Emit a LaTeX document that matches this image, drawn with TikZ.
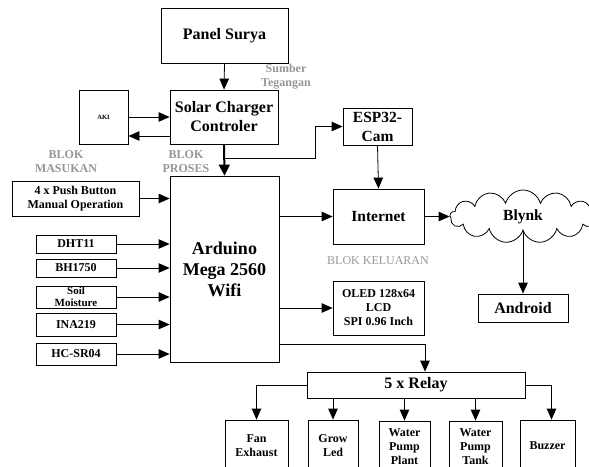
\documentclass[tikz,border=0pt]{standalone}
\usepackage{fontspec}
\setmainfont{Liberation Serif}
\usetikzlibrary{arrows.meta,shapes.symbols}
\definecolor{lbl}{RGB}{150,150,150}
\tikzset{
  blk/.style={draw, line width=0.8pt, inner sep=0pt, align=center, font=\bfseries},
  arr/.style={line width=0.8pt, -{Triangle[length=11pt,width=9.5pt]}},
  tarr/.style={line width=2pt, -{Triangle[length=11pt,width=11pt]}},
  ln/.style={line width=0.8pt},
  glbl/.style={text=lbl, align=center, inner sep=0pt, font=\fontsize{12}{14}\selectfont\bfseries},
  f16/.style={font=\fontsize{16}{19}\selectfont\bfseries},
  f12/.style={font=\fontsize{12}{14}\selectfont\bfseries},
}
\begin{document}
\begin{tikzpicture}[x=1pt,y=-1pt]
\useasboundingbox (0,0) rectangle (589,466);
\clip (0,0) rectangle (589,466);
% nodes
\node[blk,f16,minimum width=127,minimum height=55] (panel) at (224.5,35.5) {Panel Surya};
\node[blk,f16,minimum width=108,minimum height=54] (solar) at (224,117) {Solar Charger\\Controler};
\node[blk,minimum width=49,minimum height=54,font=\fontsize{6.5}{7}\selectfont\bfseries] (aki) at (103.5,117) {AKI};
\node[blk,minimum width=69,minimum height=37,font=\fontsize{15.5}{19}\selectfont\bfseries] (esp) at (377.5,126.5) {ESP32-\\Cam};
\node[blk,minimum width=109,minimum height=186,font=\fontsize{18}{21}\selectfont\bfseries] (ard) at (224.5,269) {Arduino\\Mega 2560\\Wifi};
\node[blk,f12,minimum width=127,minimum height=35] (push) at (75.5,198.5) {4 x Push Button\\Manual Operation};
\node[blk,f12,minimum width=80,minimum height=18] (dht) at (76,244) {DHT11};
\node[blk,f12,minimum width=80,minimum height=18] (bh) at (76,268) {BH1750};
\node[blk,minimum width=80,minimum height=22,font=\fontsize{11}{12}\selectfont\bfseries] (soil) at (76,297) {Soil\\Moisture};
\node[blk,f12,minimum width=80,minimum height=23] (ina) at (76,324.5) {INA219};
\node[blk,f12,minimum width=80,minimum height=22] (hc) at (76,354) {HC-SR04};
\node[blk,minimum width=91,minimum height=55,font=\fontsize{15.5}{18}\selectfont\bfseries] (inet) at (378.5,216.5) {Internet};
\node[cloud,draw,line width=0.8pt,cloud puffs=13,cloud ignores aspect,minimum width=146,minimum height=53,inner sep=0pt,font=\fontsize{15.5}{18}\selectfont\bfseries] (blynk) at (523,216.5) {Blynk};
\node[blk,f16,minimum width=90,minimum height=28] (andr) at (523,308) {Android};
\node[blk,minimum width=91,minimum height=54,f12] (oled) at (378.5,308) {OLED 128x64\\LCD\\SPI 0.96 Inch};
\node[blk,minimum width=218,minimum height=26,f16] (relay) at (416,385) {5 x Relay};
\node[blk,f12,minimum width=63,minimum height=52] (fan) at (256.5,446) {Fan\\Exhaust};
\node[blk,f12,minimum width=50,minimum height=52] (grow) at (333,446) {Grow\\Led};
\node[blk,f12,minimum width=51,minimum height=52] (wpp) at (404.5,447) {Water\\Pump\\Plant};
\node[blk,f12,minimum width=53,minimum height=52] (wpt) at (475.5,447) {Water\\Pump\\Tank};
\node[blk,f12,minimum width=55,minimum height=52] (buz) at (547.5,446) {Buzzer};
% labels
\node[glbl] (sumber) at (286,76.5) {Sumber\\Tegangan};
\node[glbl] (masuk) at (66,162) {BLOK\\MASUKAN};
\node[glbl] (proses) at (186,162) {BLOK\\PROSES};
\node[text=lbl,inner sep=0pt,font=\fontsize{12}{14}\selectfont] (kel) at (378,261) {BLOK KELUARAN};
% connectors
\draw[arr] (panel.south) -- (solar.north);
\draw[arr] (aki.east) -- (solar.west);
\draw[arr] ([yshift=-19pt]solar.west) -- ([yshift=-19pt]aki.east);
\draw[tarr] (solar.south) -- (ard.north);
\coordinate (br) at (solar.south |- 0,158);
\coordinate (bend) at (315,158);
\draw[arr] (br) -- (bend) |- (esp.west);
\draw[arr] (esp.south) -- (inet.north);
\draw[arr] (ard.east |- inet.west) -- (inet.west);
\draw[arr] (inet.east) -- (blynk.west);
\draw[arr] (blynk.south) -- (andr.north);
\draw[arr] (ard.east |- oled.west) -- (oled.west);
\foreach \s in {push,dht,bh,soil,ina,hc}
  \draw[arr] (\s.east) -- (\s.east -| ard.west);
\coordinate (ro) at (ard.east |- 0,344);
\draw[arr] (ro) -| ([xshift=9pt]relay.north);
\draw[arr] (relay.west) -| (fan.north);
\draw[arr] (relay.east) -| ([xshift=4pt]buz.north);
\draw[arr] (relay.south -| grow.north) -- (grow.north);
\draw[arr] (relay.south -| wpp.north) -- (wpp.north);
\draw[arr] (relay.south -| wpt.north) -- (wpt.north);
\end{tikzpicture}
\end{document}
